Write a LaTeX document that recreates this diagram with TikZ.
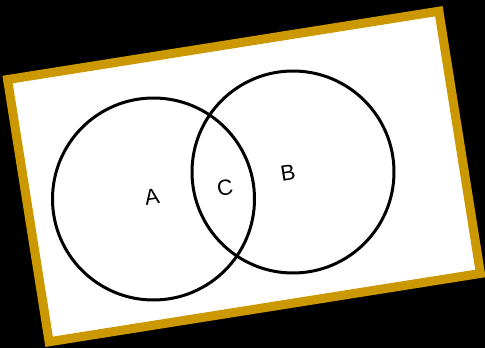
\documentclass[tikz,border=0pt]{standalone}
\usepackage{fontspec}
\setmainfont{Liberation Sans}
\definecolor{frame}{RGB}{204,152,0}
\begin{document}
\begin{tikzpicture}[x=1pt, y=-1pt,
    venn/.style={circle, draw, line width=3pt, minimum size=202pt, inner sep=0pt},
    tag/.style={font=\fontsize{22}{26}\selectfont, inner sep=0pt, rotate=9}]
    \fill[black] (0,0) rectangle (485,348);
    \node[draw=frame, fill=white, line width=9pt, minimum width=436.7pt, minimum height=265.5pt, inner sep=0pt, rotate=9] (card) at (244,176.5) {};
    \node[venn] (setA) at (153.5,199) {};
    \node[venn] (setB) at (293,172) {};
    \node[tag] (labA) at (152,197) {A};
    \node[tag] (labC) at (225,188) {C};
    \node[tag] (labB) at (288,173) {B};
\end{tikzpicture}
\end{document}
